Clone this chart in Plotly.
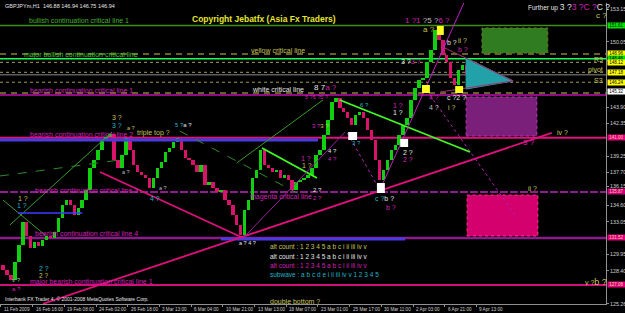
import plotly.graph_objects as go

# ---------------- data ----------------
time_labels = ["11 Feb 2009", "16 Feb 16:00", "19 Feb 08:00", "24 Feb 02:00", "26 Feb 18:00",
               "3 Mar 13:00", "6 Mar 04:00", "10 Mar 21:00", "13 Mar 13:00", "18 Mar 07:00",
               "23 Mar 01:00", "25 Mar 17:00", "30 Mar 11:00", "2 Apr 03:00", "6 Apr 21:00", "9 Apr 13:00"]
time_tick_bars = [0, 64, 128, 192, 256, 320, 384, 448, 512, 576, 640, 704, 768, 832, 896, 960]

bars_per_candle = 8
first_open = 128.97
closes = [128.50, 128.02, 127.55, 129.25, 130.86, 133.03, 131.71, 130.58, 131.14, 130.76,
          131.33, 131.71, 131.52, 132.09, 133.41, 134.64, 135.11, 134.64, 133.69, 134.36,
          135.11, 136.06, 138.14, 138.89, 139.84, 140.78, 141.06, 141.35, 138.89, 138.14,
          139.36, 140.97, 139.84, 138.42, 137.76, 137.47, 137.19, 136.25, 137.19, 138.14,
          138.70, 139.65, 140.03, 140.59, 140.97, 139.84, 139.08, 138.89, 138.42, 137.76,
          138.42, 136.53, 136.81, 136.25, 135.87, 136.06, 135.11, 134.64, 133.69, 132.75,
          131.80, 134.17, 135.11, 137.19, 137.95, 139.84, 138.42, 138.14, 137.76, 137.95,
          137.19, 137.47, 137.00, 136.06, 136.81, 137.00, 137.19, 137.47, 138.14, 139.36,
          139.84, 141.25, 142.67, 144.37, 144.75, 143.81, 143.43, 142.86, 142.20, 143.14,
          143.43, 142.86, 141.73, 140.78, 138.89, 137.00, 137.95, 138.89, 139.84, 140.31,
          141.25, 142.20, 142.86, 144.56, 145.70, 146.45, 146.64, 148.15, 149.29, 151.18,
          150.23, 148.81, 148.15, 146.64, 145.98, 147.40, 147.87, 146.92, 147.59, 147.21,
          147.40, 147.21]

price_ticks = [153.15, 150.05, 143.90, 142.35, 139.25, 137.70, 136.40, 134.60, 133.05,
               129.95, 128.40, 125.30]
price_tick_text = ["153.15", "150.05", "143.90", "142.35", "139.25", "137.70", "136.15",
                   "134.60", "133.05", "129.95", "128.40", "125.26"]

level_prices = [151.61, 148.92, 148.46, 148.12, 147.18, 146.94, 146.24, 145.22, 145.03,
                141.00, 135.87, 131.52, 127.08]
box_prices = [151.61, 148.98, 148.46, 148.06, 147.18, 146.24, 145.32, 141.00, 135.87, 131.52, 127.08]
box_text = ["151.61", "148.96", "148.46", "148.12", "147.18", "146.24", "145.32",
            "141.00", "135.87", "131.52", "127.08"]

trend_x0 = [85, 200, 684, 527, 18, 4, -2, 476, 361, 489, 765, 699, 866, 34]
trend_y0 = [125.30, 137.76, 144.56, 140.02, 132.75, 135.11, 137.38, 138.61, 141.63, 131.52,
            136.06, 141.44, 145.03, 133.88]
trend_x1 = [1112, 489, 947, 638, 224, 89, 240, 650, 598, 695, 937, 765, 1038, 164]
trend_y1 = [141.45, 131.52, 139.65, 137.19, 141.54, 131.80, 138.89, 144.56, 135.77, 141.54,
            154.00, 136.06, 133.69, 133.88]

band_price = [140.78, 131.42]
band_x0 = [-2, 444]
band_x1 = [640, 816]

zone_x0 = [971, 939, 941]
zone_x1 = [1104, 1082, 1084]
zone_top = [151.37, 144.85, 135.58]
zone_bottom = [149.00, 141.16, 131.71]

tri_x = [939, 1034, 939]
tri_y = [148.53, 146.36, 145.60]
tri_edge_x0 = [892, 887]
tri_edge_y0 = [149.57, 145.32]

ybox_x0 = [850, 880, 917]
ybox_x1 = [866, 894, 933]
ybox_y0 = [145.22, 150.71, 145.22]
ybox_y1 = [145.98, 151.56, 145.88]
wbox_x0 = [701, 806, 759]
wbox_x1 = [719, 822, 775]
wbox_y0 = [140.78, 140.12, 135.77]
wbox_y1 = [141.54, 140.88, 136.72]

# ---------------- styles ----------------
KH = "#c8c45a"; MG = "#d420b8"; CY = "#22b4c8"; WH = "#e6e6e6"; GY = "#bdbdbd"; GN = "#46b42a"
FONT = "Liberation Sans"
PW, PT, PH = 606, 3, 301

level_styles = [("#3f8f0f", 1.5, "solid"), ("#8a8035", 1.5, "6px,5px"), ("#1cff5a", 1.5, "solid"),
                ("#a09a50", 1, "dot"), ("#a09a50", 1, "dot"), ("#8c8c8c", 1, "solid"),
                ("#a09a50", 1, "dot"), ("#8a8035", 1.5, "6px,5px"), ("#c010b0", 1.5, "solid"),
                ("#e0107c", 2, "solid"), ("#901c90", 2, "8px,2px"), ("#8c1a8c", 2.5, "solid"),
                ("#d0107a", 2, "solid")]
box_bg = ["#00e000", "#ffff00", "#00e000", "#ffff00", "#ffff00", "#ffff00", "#ffffff",
          "#e0007a", "#c8007a", "#e0007a", "#e0007a"]
box_fg = ["#000000"] * 7 + ["#ffd0a0"] * 4
trend_styles = [("#e0107c", 1.8, "solid"), ("#e0107c", 1.8, "solid"), ("#40ff20", 1.8, "solid"),
                ("#40ff20", 1.8, "solid"), ("#3a9a2a", 1, "solid"), ("#3a9a2a", 1, "solid"),
                ("#2e8a2e", 1, "dash"), ("#3a9a2a", 1, "solid"), ("#2e8a2e", 1, "dash"),
                ("#a020a0", 1, "solid"), ("#c020c0", 1, "solid"), ("#b020b0", 1, "dot"),
                ("#b020b0", 1, "dot"), ("#3c3cff", 1.5, "solid")]

fig = go.Figure()

# zones
for i in range(len(zone_x0)):
    fc = ["#2f7d20", "#7a1f7a", "#d4006e"][i]
    lc = ["#6a7a2a", "#c030c0", "#ff3090"][i]
    fig.add_shape(type="rect", x0=zone_x0[i], x1=zone_x1[i], y0=zone_bottom[i], y1=zone_top[i],
                  fillcolor=fc, line=dict(color=lc, width=1, dash="dot"), layer="below")

# horizontal levels
for p, (c, w, d) in zip(level_prices, level_styles):
    fig.add_shape(type="line", xref="paper", x0=0, x1=1, y0=p, y1=p,
                  line=dict(color=c, width=w, dash=d), layer="below")

# blue bands
for i in range(len(band_price)):
    fig.add_trace(go.Scatter(x=[band_x0[i], band_x1[i]], y=[band_price[i]] * 2, mode="lines",
                             line=dict(color="#4a3ae0", width=3), hoverinfo="skip"))

# candles as bars
opens = [first_open] + closes[:-1]
centers = [bars_per_candle * k + bars_per_candle / 2 for k in range(len(closes))]
bases = [min(o, c) for o, c in zip(opens, closes)]
heights = [max(abs(c - o), 0.15) for o, c in zip(opens, closes)]
cols = ["#10d010" if c >= o else "#d8146a" for o, c in zip(opens, closes)]
fig.add_trace(go.Bar(x=centers, y=heights, base=bases, marker=dict(color=cols, line=dict(width=0)),
                     width=7, hoverinfo="skip"))

# triangle
fig.add_trace(go.Scatter(x=tri_x + [tri_x[0]], y=tri_y + [tri_y[0]], mode="lines", fill="toself",
                         fillcolor="#22a2a8", line=dict(color="#22a2a8", width=1), hoverinfo="skip"))
for i in range(2):
    fig.add_trace(go.Scatter(x=[tri_edge_x0[i], tri_x[1]], y=[tri_edge_y0[i], tri_y[1]], mode="lines",
                             line=dict(color="#a03070", width=1), hoverinfo="skip"))

# trend lines
for i in range(len(trend_x0)):
    c, w, d = trend_styles[i]
    fig.add_trace(go.Scatter(x=[trend_x0[i], trend_x1[i]], y=[trend_y0[i], trend_y1[i]], mode="lines",
                             line=dict(color=c, width=w, dash=d), hoverinfo="skip"))

# marker boxes
for i in range(3):
    fig.add_shape(type="rect", x0=ybox_x0[i], x1=ybox_x1[i], y0=ybox_y0[i], y1=ybox_y1[i],
                  fillcolor="#ffff20", line=dict(width=0))
    fig.add_shape(type="rect", x0=wbox_x0[i], x1=wbox_x1[i], y0=wbox_y0[i], y1=wbox_y1[i],
                  fillcolor="#ffffff", line=dict(width=0))


def P(x, y):
    return x / PW, 1 - (y - PT) / PH


def sp(t, c):
    return "<span style='color:%s'>%s</span>" % (c, t)


notes = [
    (3, 6, "GBPJPYm,H1  146.88 146.94 146.75 146.94", WH, 5.5),
    (190, 19, "<b>Copyright Jebatfx (Asia Fx Traders)</b>", "#e6e62e", 8.5),
    (27, 21, "bullish continuation critical line 1", GN, 7),
    (22, 55, "major bullish continuation critical line", "#40c030", 7),
    (249, 51, "yellow critical line", KH, 7),
    (28, 90, "bearish continuation critical line 1", MG, 7),
    (250, 89, "white critical line", WH, 7),
    (312, 88, "8 7" + sp("a ?", MG), WH, 8),
    (303, 97, "5 ?6 ?5 ?", MG, 5.5),
    (28, 134, "bearish continuation critical line 2", MG, 7),
    (135, 133, "triple top ?", KH, 7),
    (33, 190, "bearish continuation critical line 3", MG, 7),
    (248, 197, "magenta critical line", MG, 7),
    (33, 233, "bearish continuation critical line 4", MG, 7),
    (28, 282, "major bearish continuation critical line 1", MG, 7),
    (268, 246, "alt count : 1 2 3 4 5 a b c i ii iii iv v", KH, 6.5),
    (268, 256, "alt count : 1 2 3 4 5 a b c i ii iii iv v", WH, 6.5),
    (268, 265, "alt count : 1 2 3 4 5 a b c i ii iii iv v", MG, 6.5),
    (268, 274, "subwave : a b c d e i ii iii iv v 1 2 3 4 5", CY, 6.5),
    (268, 301, "double bottom ?", KH, 7),
    (3, 299, "Interbank FX Trader 4, © 2001-2008 MetaQuotes Software Corp.", WH, 5),
    (526, 7, "Further up <span style='font-size:8.5px'>3 ?" + sp("3 ?C ?", MG) + "C ?</span>", WH, 6.5),
    (594, 15, "c ?", KH, 8),
    (403, 20, sp("1 ?1", MG) + " ?5 ?" + sp("6 ?", MG), GY, 8),
    (421, 29, "a ?", KH, 8),
    (445, 43, "b ?", WH, 7),
    (456, 41, "ii ?", KH, 7),
    (456, 49, "b ?", MG, 7),
    (399, 61, "3 ?" + sp("3 ?", MG), WH, 7),
    (427, 98, "4 ?", MG, 7),
    (445, 98, "c ?2 ?", WH, 7),
    (427, 107, "4 ?", GY, 7),
    (446, 107, "i ?", KH, 7),
    (401, 152, "2 ?", WH, 7),
    (401, 159, "2 ?", MG, 7),
    (555, 133, "iv ?", KH, 7),
    (521, 142, "3 ?", MG, 8),
    (526, 188, "ii ?", KH, 7),
    (583, 282, "v ?<span style='font-size:9px'>b ?</span>", KH, 7),
    (16, 198, "1 ?", KH, 7),
    (15, 205, "1 ?", CY, 7),
    (37, 268, "2 ?", CY, 7),
    (37, 275, "2 ?", KH, 6.5),
    (10, 280, "v ?", GY, 6),
    (10, 289, "a ?", MG, 6),
    (110, 117, "3 ?", KH, 7),
    (110, 125, "3 ?", CY, 7),
    (125, 128, "a ?", KH, 5.5),
    (120, 172, "a ?", GY, 5.5),
    (157, 188, "a ?", GY, 5.5),
    (148, 198, "4 ?", CY, 7),
    (173, 125, "5 ?" + sp("a ?", WH), CY, 6),
    (310, 126, "3 ?" + sp("3 ?", KH), MG, 6),
    (326, 151, "4 ?", WH, 6),
    (326, 159, "4 ?", MG, 6),
    (299, 158, "1 ?", MG, 7),
    (300, 165, "1 ?", KH, 7),
    (311, 190, "2 ?", WH, 6),
    (311, 198, "2 ?", MG, 6),
    (358, 105, "6 ?", CY, 6),
    (350, 143, "3 ?", CY, 6),
    (391, 105, "1 ?", MG, 7),
    (391, 113, "1 ?", WH, 7),
    (373, 198, "c ?" + sp("b ?", WH), CY, 7),
    (384, 207, "b ?", MG, 7),
    (237, 243, "a ? 4 ?", WH, 5.5),
]

ann = []
for x, y, t, c, s in notes:
    px, py = P(x, y)
    ann.append(dict(x=px, y=py, xref="paper", yref="paper", text=t, showarrow=False,
                    xanchor="left", yanchor="middle", font=dict(color=c, size=s, family=FONT)))

# pivot labels
for y, t in [(59, "R3"), (70, "pivot"), (80, "S3")]:
    px, py = P(605, y)
    ann.append(dict(x=px, y=py, xref="paper", yref="paper", text=t, showarrow=False,
                    xanchor="right", yanchor="middle", font=dict(color=KH, size=7, family=FONT)))

# time labels
for b, t in zip(time_tick_bars, time_labels):
    ann.append(dict(x=b, y=0, xref="x", yref="paper", text=t, showarrow=False, xanchor="left",
                    yanchor="top", xshift=1, yshift=-1, font=dict(color="#d0d0d0", size=4.6, family=FONT)))

# price boxes on axis
for p, t, bg, fg in zip(box_prices, box_text, box_bg, box_fg):
    ann.append(dict(x=1, y=p, xref="paper", yref="y", text=t, showarrow=False, xanchor="left",
                    yanchor="middle", xshift=1, bgcolor=bg, borderpad=0, width=17, height=5,
                    font=dict(color=fg, size=4.5, family=FONT)))

fig.update_layout(
    width=625, height=313,
    margin=dict(l=0, r=19, t=3, b=9),
    paper_bgcolor="#000000", plot_bgcolor="#000000",
    showlegend=False, bargap=0,
    annotations=ann,
    xaxis=dict(range=[-2, 1221.5], showgrid=False, zeroline=False, showticklabels=False,
               tickvals=time_tick_bars, ticks="outside", ticklen=2, tickcolor="#909090",
               showline=True, linecolor="#909090", linewidth=1),
    yaxis=dict(range=[125.28, 153.73], side="right", showgrid=False, zeroline=False,
               tickvals=price_ticks, ticktext=price_tick_text, ticks="outside", ticklen=2,
               tickcolor="#909090", showline=True, linecolor="#909090", linewidth=1,
               tickfont=dict(color="#d0d0d0", size=5.3, family=FONT)),
)

fig.write_html("out.html")
